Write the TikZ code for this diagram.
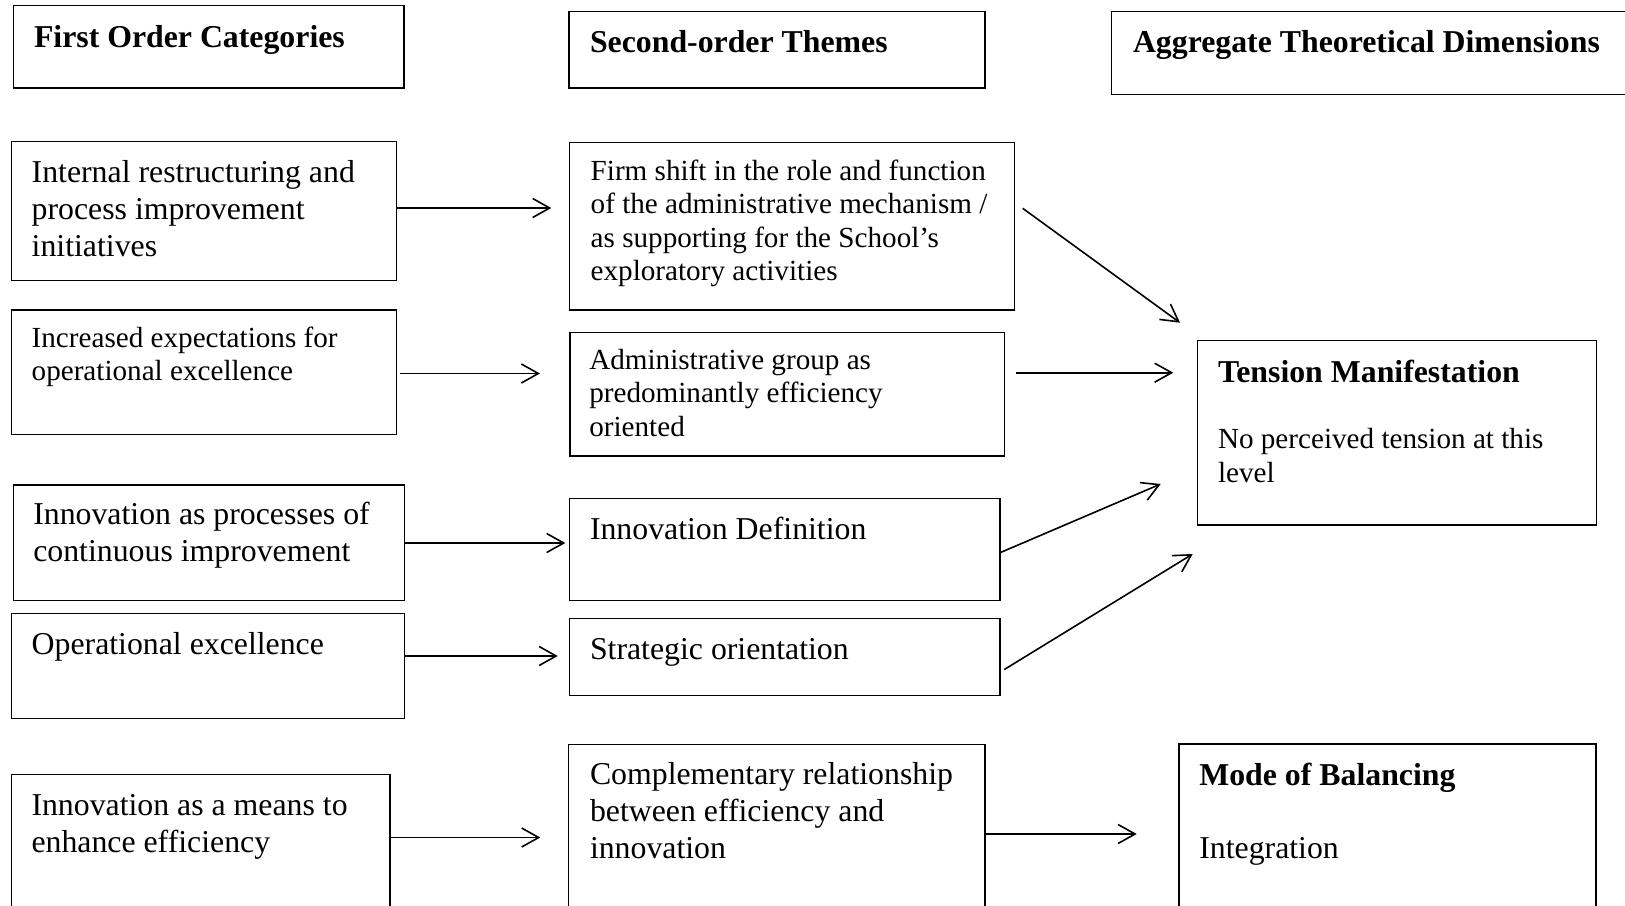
\documentclass[tikz,border=0pt]{standalone}
\usepackage{fontspec}
\setmainfont{Liberation Serif}
\usetikzlibrary{arrows.meta}

% multi-line text block whose baseline is that of its first line
\newcommand\txtlines[1]{\parbox[t]{700pt}{\raggedright #1}}

\tikzset{
  box/.style={draw, line width=1.15pt, rectangle, inner sep=0pt, outer sep=0pt, anchor=north west},
  txt/.style={anchor=base west, inner sep=0pt, outer sep=0pt},
  twelve/.style={font=\fontsize{31.8}{37.2}\selectfont},
  eleven/.style={font=\fontsize{29.15}{33.6}\selectfont},
  head/.style={font=\fontsize{31.8}{37.2}\selectfont\bfseries},
  link/.style={line width=1.6pt, -{Straight Barb[length=17pt,width=19pt]}},
}

% box from (x1,y1) to (x2,y2), y measured downwards
\newcommand\boxnode[5]{%
  \node[box, minimum width={(#4-#2)*1pt}, minimum height={(#5-#3)*1pt}] (#1) at (#2,#3) {};}

\begin{document}
\begin{tikzpicture}[x=1pt,y=-1pt]
\useasboundingbox (0,0) rectangle (1625,905);
\clip (0,0) rectangle (1625,905);

% column headings
\boxnode{h1}{13.5}{5.5}{404}{88}
\boxnode{h2}{569}{11.5}{985}{88}
\boxnode{h3}{1111.5}{11.5}{1660}{94.3}
\node[txt, head] (h1t) at (34,47) {First Order Categories};
\node[txt, head] (h2t) at (590,52) {Second-order Themes};
\node[txt, head] (h3t) at (1133,52) {Aggregate Theoretical Dimensions};

% first order categories
\boxnode{a1}{11.7}{141.7}{396.7}{280.5}
\boxnode{a2}{11.7}{310}{396.7}{434.3}
\boxnode{a3}{13.3}{485}{404.3}{600.5}
\boxnode{a4}{11.7}{613.3}{404.3}{718.3}
\boxnode{a5}{11.5}{774.5}{390}{940}
\node[txt, twelve] (a1t) at (31.7,182) {\txtlines{Internal restructuring and\\process improvement\\initiatives}};
\node[txt, eleven] (a2t) at (31.7,347) {\txtlines{Increased expectations for\\operational excellence}};
\node[txt, twelve] (a3t) at (33.3,524) {\txtlines{Innovation as processes of\\continuous improvement}};
\node[txt, twelve] (a4t) at (31.7,654) {Operational excellence};
\node[txt, twelve] (a5t) at (31.5,815) {\txtlines{Innovation as a means to\\enhance efficiency}};

% second-order themes
\boxnode{b1}{569.3}{142.3}{1014.3}{310}
\boxnode{b2}{570}{332.7}{1004.5}{456}
\boxnode{b3}{569.3}{498.5}{1000}{600.5}
\boxnode{b4}{569.3}{618.7}{1000}{695.4}
\boxnode{b5}{568.3}{744.3}{985}{940}
\node[txt, eleven] (b1t) at (590.7,180) {\txtlines{Firm shift in the role and function\\of the administrative mechanism /\\as supporting for the School’s\\exploratory activities}};
\node[txt, eleven] (b2t) at (589.3,369) {\txtlines{Administrative group as\\predominantly efficiency\\oriented}};
\node[txt, twelve] (b3t) at (590,539.5) {Innovation Definition};
\node[txt, twelve] (b4t) at (590,659) {Strategic orientation};
\node[txt, twelve] (b5t) at (590,784.5) {\txtlines{Complementary relationship\\between efficiency and\\innovation}};

% aggregate dimensions
\boxnode{c1}{1197.3}{340.7}{1596.7}{525}
\boxnode{c2}{1179}{744}{1596}{940}
\node[txt, head] (c1h) at (1218,382) {Tension Manifestation};
\node[txt, eleven] (c1t) at (1218,448.5) {\txtlines{No perceived tension at this\\level}};
\node[txt, head] (c2h) at (1199.3,785) {Mode of Balancing};
\node[txt, twelve] (c2t) at (1199.3,858.5) {Integration};

% first order -> second order
\draw[link] (a1.east |- 0,208) -- ([xshift=-18pt]b1.west |- 0,208);
\draw[link] ([xshift=3pt]a2.east |- 0,373.5) -- ([xshift=-30pt]b2.west |- 0,373.5);
\draw[link] (a3.east |- 0,543) -- ([xshift=-4pt]b3.west |- 0,543);
\draw[link] (a4.east |- 0,656) -- ([xshift=-11.5pt]b4.west |- 0,656);
\draw[link] (a5.east |- 0,837.5) -- ([xshift=-28pt]b5.west |- 0,837.5);

% second order -> aggregate dimensions
\draw[link] ([xshift=8.4pt]b1.east |- 0,208.3) -- ([xshift=-17.3pt,yshift=18pt]c1.north west);
\draw[link] ([xshift=11.5pt]b2.east |- 0,372.7) -- ([xshift=-24pt]c1.west |- 0,372.7);
\draw[link] (b3.east |- 0,552.7) -- ([xshift=-36.6pt]c1.west |- 0,484);
\draw[link] ([xshift=4.3pt]b4.east |- 0,669.5) -- ([xshift=-4.6pt,yshift=-29pt]c1.south west);
\draw[link] (b5.east |- 0,834) -- ([xshift=-42.3pt]c2.west |- 0,834);
\end{tikzpicture}
\end{document}
